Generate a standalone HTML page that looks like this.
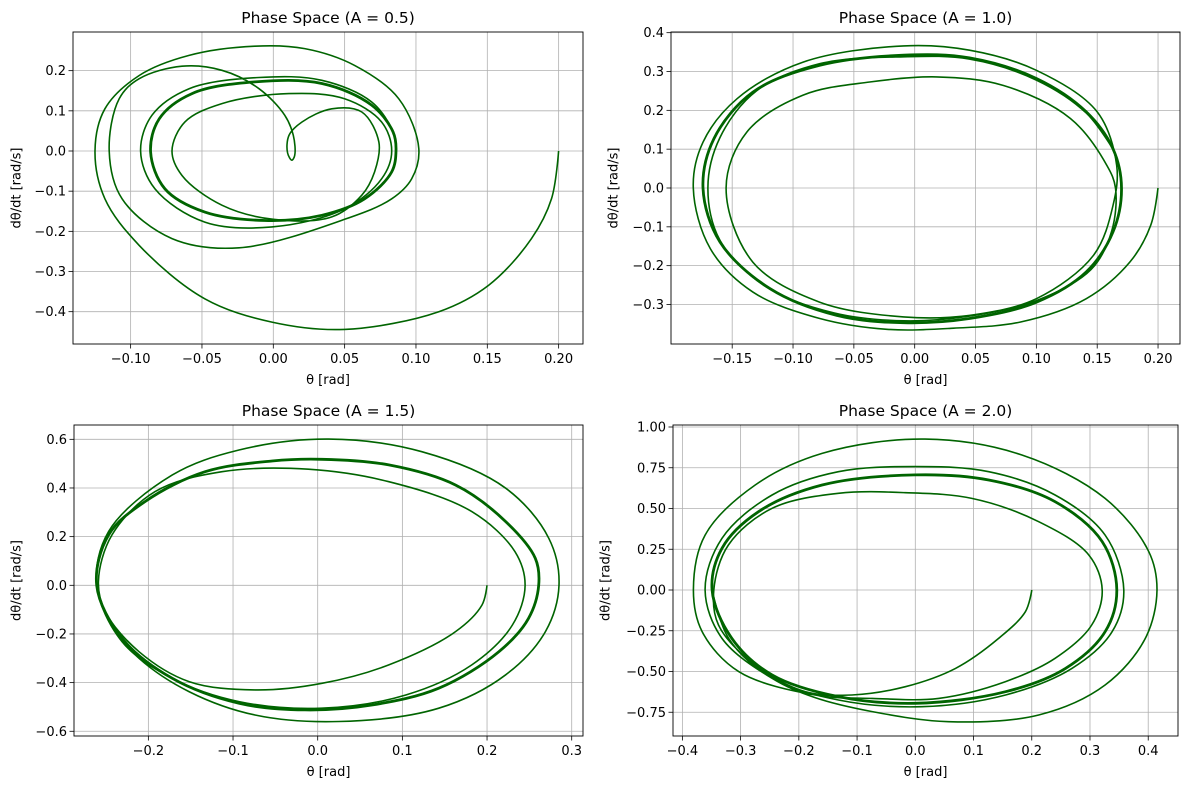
<!DOCTYPE html>
<html><head><meta charset="utf-8">
<style>
html,body{margin:0;padding:0;background:#fff;}
svg{display:block;font-family:"DejaVu Sans","Liberation Sans",sans-serif;}
</style></head>
<body>
<svg id="fig" width="1189" height="790" viewBox="0 0 1189 790" xmlns="http://www.w3.org/2000/svg"></svg>
<script>
// ---- Data (θ [rad], dθ/dt [rad/s]) ----
const p1TransTheta=[0.2,0.195,0.181,0.151,0.116,0.05,-0.001,-0.048,-0.094,-0.118,-0.125,-0.118,-0.094,-0.059,-0.013,0.022,0.057,0.088,0.102,0.097,0.083,0.05,-0.024,-0.071,-0.106,-0.115,-0.108,-0.094,-0.064,-0.036,-0.010,0.008,0.014,0.015,0.013,0.010,0.011,0.020,0.041,0.062,0.074,0.071,0.062,0.041,0.0,-0.036,-0.064,-0.071,-0.062,-0.036,0.011,0.050,0.076,0.083,0.076,0.050,-0.001,-0.048,-0.083,-0.093,-0.085,-0.059,-0.010,0.034,0.069,0.084,0.086];
const p1TransOmega=[0,-0.119,-0.218,-0.334,-0.40,-0.444,-0.426,-0.368,-0.235,-0.119,0,0.105,0.188,0.238,0.261,0.255,0.213,0.130,0.006,-0.069,-0.119,-0.170,-0.241,-0.218,-0.119,0,0.13,0.18,0.211,0.201,0.155,0.089,0.039,-0.011,-0.023,-0.005,0.039,0.072,0.105,0.097,0.022,-0.052,-0.110,-0.164,-0.17,-0.135,-0.061,0,0.072,0.118,0.143,0.130,0.072,0,-0.069,-0.144,-0.189,-0.177,-0.094,0,0.089,0.155,0.183,0.176,0.122,0.047,0];
const p1CycleTheta=[0.086,0.083,0.064,0.034,-0.006,-0.048,-0.076,-0.086,-0.080,-0.057,-0.013,0.034,0.069,0.084];
const p1CycleOmega=[0,-0.052,-0.119,-0.160,-0.173,-0.152,-0.094,-0.002,0.080,0.143,0.172,0.168,0.114,0.047];

const p2TransTheta=[0.2,0.194,0.177,0.141,0.087,0.032,-0.023,-0.078,-0.133,-0.168,-0.182,-0.174,-0.146,-0.092,-0.009,0.045,0.10,0.15,0.166,0.163,0.147,0.10,0.045,-0.009,-0.078,-0.133,-0.155,-0.138,-0.092,-0.037,0.018,0.073,0.128,0.158,0.165,0.162,0.145,0.10,0.045,-0.009,-0.066,-0.122,-0.160,-0.170,-0.160,-0.130,-0.078,-0.009,0.045,0.10,0.141,0.163];
const p2TransOmega=[0,-0.096,-0.19,-0.285,-0.345,-0.361,-0.364,-0.336,-0.268,-0.156,0,0.118,0.23,0.324,0.366,0.355,0.303,0.196,0.058,-0.045,-0.173,-0.285,-0.328,-0.332,-0.294,-0.191,0,0.144,0.239,0.273,0.286,0.264,0.179,0.058,0,-0.11,-0.21,-0.29,-0.33,-0.342,-0.322,-0.255,-0.135,0,0.13,0.25,0.32,0.338,0.332,0.278,0.193,0.10];
const p2CycleTheta=[0.170,0.163,0.141,0.10,0.045,-0.009,-0.064,-0.119,-0.160,-0.174,-0.165,-0.133,-0.078,-0.009,0.045,0.10,0.141,0.163];
const p2CycleOmega=[0,-0.113,-0.216,-0.294,-0.336,-0.347,-0.328,-0.259,-0.139,0,0.127,0.247,0.316,0.342,0.335,0.282,0.196,0.101];

const p3TransTheta=[0.2,0.194,0.163,0.084,0.005,-0.074,-0.152,-0.211,-0.251,-0.259,-0.243,-0.192,-0.113,-0.011,0.084,0.182,0.233,0.245,0.230,0.182,0.104,0.005,-0.093,-0.172,-0.231,-0.261,-0.247,-0.172,-0.093,0.013,0.123,0.222,0.273,0.285,0.269,0.222,0.143,0.025,-0.074,-0.152,-0.211,-0.245,-0.261];
const p3TransOmega=[0,-0.081,-0.19,-0.327,-0.403,-0.43,-0.396,-0.273,-0.108,0.015,0.207,0.385,0.467,0.477,0.426,0.303,0.138,0,-0.163,-0.327,-0.451,-0.505,-0.478,-0.382,-0.232,0,0.221,0.453,0.556,0.601,0.549,0.399,0.193,0,-0.19,-0.368,-0.505,-0.560,-0.533,-0.437,-0.30,-0.16,0];
const p3CycleTheta=[-0.261,-0.247,-0.204,-0.133,-0.054,0.005,0.084,0.163,0.222,0.257,0.261,0.249,0.214,0.143,0.064,-0.015,-0.093,-0.172,-0.231];
const p3CycleOmega=[0,0.207,0.344,0.467,0.511,0.518,0.495,0.412,0.262,0.111,0,-0.136,-0.273,-0.423,-0.492,-0.512,-0.485,-0.382,-0.218];

const p4TransTheta=[0.2,0.189,0.143,0.069,-0.017,-0.109,-0.189,-0.275,-0.338,-0.346,-0.321,-0.246,-0.132,-0.017,0.097,0.212,0.298,0.321,0.303,0.240,0.155,0.040,-0.074,-0.172,-0.303,-0.366,-0.381,-0.361,-0.275,-0.160,0.017,0.183,0.326,0.401,0.415,0.395,0.326,0.212,0.057,-0.074,-0.172,-0.246,-0.332,-0.361,-0.332,-0.246,-0.132,0,0.126,0.240,0.326,0.358,0.338,0.269,0.155,0.011,-0.132,-0.246,-0.320,-0.349];
const p4TransOmega=[0,-0.133,-0.297,-0.481,-0.593,-0.644,-0.624,-0.46,-0.215,0,0.276,0.501,0.593,0.597,0.562,0.419,0.215,0,-0.215,-0.419,-0.562,-0.665,-0.665,-0.644,-0.501,-0.256,0,0.337,0.644,0.838,0.926,0.828,0.562,0.235,0,-0.297,-0.583,-0.767,-0.808,-0.746,-0.66,-0.542,-0.297,0,0.317,0.583,0.726,0.757,0.726,0.583,0.337,0,-0.256,-0.481,-0.644,-0.716,-0.675,-0.542,-0.30,0];
const p4CycleTheta=[-0.349,-0.332,-0.269,-0.160,0,0.126,0.240,0.321,0.346,0.326,0.258,0.155,0,-0.132,-0.246,-0.315];
const p4CycleOmega=[0,0.256,0.481,0.644,0.706,0.675,0.542,0.297,0,-0.256,-0.481,-0.624,-0.695,-0.654,-0.521,-0.297];

// tick values
const p1XTicks=[-0.10,-0.05,0.00,0.05,0.10,0.15,0.20];
const p1YTicks=[-0.4,-0.3,-0.2,-0.1,0.0,0.1,0.2];
const p2XTicks=[-0.15,-0.10,-0.05,0.00,0.05,0.10,0.15,0.20];
const p2YTicks=[-0.3,-0.2,-0.1,0.0,0.1,0.2,0.3,0.4];
const p3XTicks=[-0.2,-0.1,0.0,0.1,0.2,0.3];
const p3YTicks=[-0.6,-0.4,-0.2,0.0,0.2,0.4,0.6];
const p4XTicks=[-0.4,-0.3,-0.2,-0.1,0.0,0.1,0.2,0.3,0.4];
const p4YTicks=[-0.75,-0.50,-0.25,0.00,0.25,0.50,0.75,1.00];
const titles=["Phase Space (A = 0.5)","Phase Space (A = 1.0)","Phase Space (A = 1.5)","Phase Space (A = 2.0)"];

// ---- layout ----
const panels=[
 {L:73,R:583,T:32,B:344,x0:273.3,sx:1426.7,y0:151,sy:401.7,xd:2,yd:1,ylx:17,tt:p1TransTheta,to:p1TransOmega,ct:p1CycleTheta,co:p1CycleOmega,xt:p1XTicks,yt:p1YTicks},
 {L:671,R:1180,T:32,B:344,x0:914.7,sx:1216.7,y0:188,sy:388.3,xd:2,yd:1,ylx:614,tt:p2TransTheta,to:p2TransOmega,ct:p2CycleTheta,co:p2CycleOmega,xt:p2XTicks,yt:p2YTicks},
 {L:74,R:583,T:425,B:736,x0:317.7,sx:846.7,y0:585.3,sy:243.3,xd:1,yd:1,ylx:17,tt:p3TransTheta,to:p3TransOmega,ct:p3CycleTheta,co:p3CycleOmega,xt:p3XTicks,yt:p3YTicks},
 {L:673,R:1178,T:425,B:736,x0:915.3,sx:582.3,y0:590,sy:163,xd:1,yd:2,ylx:606,tt:p4TransTheta,to:p4TransOmega,ct:p4CycleTheta,co:p4CycleOmega,xt:p4XTicks,yt:p4YTicks}
];
const NS="http://www.w3.org/2000/svg";
const svg=document.getElementById('fig');
function mk(tag,attrs,parent){const e=document.createElementNS(NS,tag);for(const k in attrs)e.setAttribute(k,attrs[k]);(parent||svg).appendChild(e);return e;}
function fmt(v,d){const s=Math.abs(v).toFixed(d);return (v<-1e-9?"\u2212":"")+s;}
// centripetal Catmull-Rom -> cubic bezier
function crPath(pts,closed){
  const n=pts.length;
  const get=i=>closed?pts[(i+n)%n]:pts[Math.max(0,Math.min(n-1,i))];
  const dist=(a,b)=>Math.pow(Math.hypot(a[0]-b[0],a[1]-b[1]),0.5);
  let d="M"+pts[0][0].toFixed(1)+","+pts[0][1].toFixed(1);
  const segs=closed?n:n-1;
  for(let i=0;i<segs;i++){
    const p0=get(i-1),p1=get(i),p2=get(i+1),p3=get(i+2);
    const d1=dist(p0,p1),d2=dist(p1,p2),d3=dist(p2,p3);
    let c1,c2;
    if(d1<1e-6){c1=p1;}else{
      const a=d1*d1,b=d2*d2,m=2*a+3*d1*d2+b,q=3*d1*(d1+d2);
      c1=[(a*p2[0]-b*p0[0]+m*p1[0])/q,(a*p2[1]-b*p0[1]+m*p1[1])/q];
    }
    if(d3<1e-6){c2=p2;}else{
      const a=d3*d3,b=d2*d2,m=2*a+3*d3*d2+b,q=3*d3*(d3+d2);
      c2=[(a*p1[0]-b*p3[0]+m*p2[0])/q,(a*p1[1]-b*p3[1]+m*p2[1])/q];
    }
    d+=" C"+c1[0].toFixed(1)+","+c1[1].toFixed(1)+" "+c2[0].toFixed(1)+","+c2[1].toFixed(1)+" "+p2[0].toFixed(1)+","+p2[1].toFixed(1);
  }
  return closed?d+"Z":d;
}
panels.forEach((p,i)=>{
  const X=v=>p.x0+v*p.sx, Y=v=>p.y0-v*p.sy;
  const g=mk('g',{});
  
  
  const clipId='clip'+i;
  const cp=mk('clipPath',{id:clipId},g);mk('rect',{x:p.L,y:p.T,width:p.R-p.L,height:p.B-p.T},cp);
  p.xt.forEach(v=>{
    const x=X(v);
    const gl=mk('line',{x1:x,x2:x,y1:p.T,y2:p.B,stroke:'#b0b0b0','stroke-width':0.8},g);
    
    
    mk('line',{x1:x,x2:x,y1:p.B,y2:p.B+4.5,stroke:'#000','stroke-width':0.8},g);
    const t=mk('text',{x:x,y:p.B+19,'text-anchor':'middle','font-size':13,fill:'#000'},g);
    t.textContent=fmt(v,p.xd);
    
    
  });
  p.yt.forEach(v=>{
    const y=Y(v);
    const gl=mk('line',{x1:p.L,x2:p.R,y1:y,y2:y,stroke:'#b0b0b0','stroke-width':0.8},g);
    
    
    mk('line',{x1:p.L-4.5,x2:p.L,y1:y,y2:y,stroke:'#000','stroke-width':0.8},g);
    const t=mk('text',{x:p.L-7,y:y+4.5,'text-anchor':'end','font-size':13,fill:'#000'},g);
    t.textContent=fmt(v,p.yd);
    
    
  });
  const trans=p.tt.map((v,k)=>[X(v),Y(p.to[k])]);
  const cyc=p.ct.map((v,k)=>[X(v),Y(p.co[k])]);
  const tp=mk('path',{d:crPath(trans,false),fill:'none',stroke:'#006400','stroke-width':1.6,'stroke-linejoin':'round','clip-path':'url(#'+clipId+')'},g);
  
  
  const cpth=mk('path',{d:crPath(cyc,true),fill:'none',stroke:'#006400','stroke-width':2.8,'stroke-linejoin':'round','clip-path':'url(#'+clipId+')'},g);
  
  
  const fr=mk('rect',{x:p.L,y:p.T,width:p.R-p.L,height:p.B-p.T,fill:'none',stroke:'#000','stroke-width':0.9},g);
  
  
  const ti=mk('text',{x:(p.L+p.R)/2,y:p.T-9,'text-anchor':'middle','font-size':15.5,fill:'#000'},g);
  ti.textContent=titles[i];
  
  
  const xl=mk('text',{x:(p.L+p.R)/2,y:p.B+40,'text-anchor':'middle','font-size':13,fill:'#000'},g);
  xl.textContent='θ [rad]';
  
  
  const cy=(p.T+p.B)/2;
  const yl=mk('text',{x:p.ylx,y:cy,'text-anchor':'middle','font-size':13,fill:'#000',transform:'rotate(-90 '+p.ylx+' '+cy+')','dominant-baseline':'middle'},g);
  yl.textContent='dθ/dt [rad/s]';
  
  
});
</script>
</body></html>
